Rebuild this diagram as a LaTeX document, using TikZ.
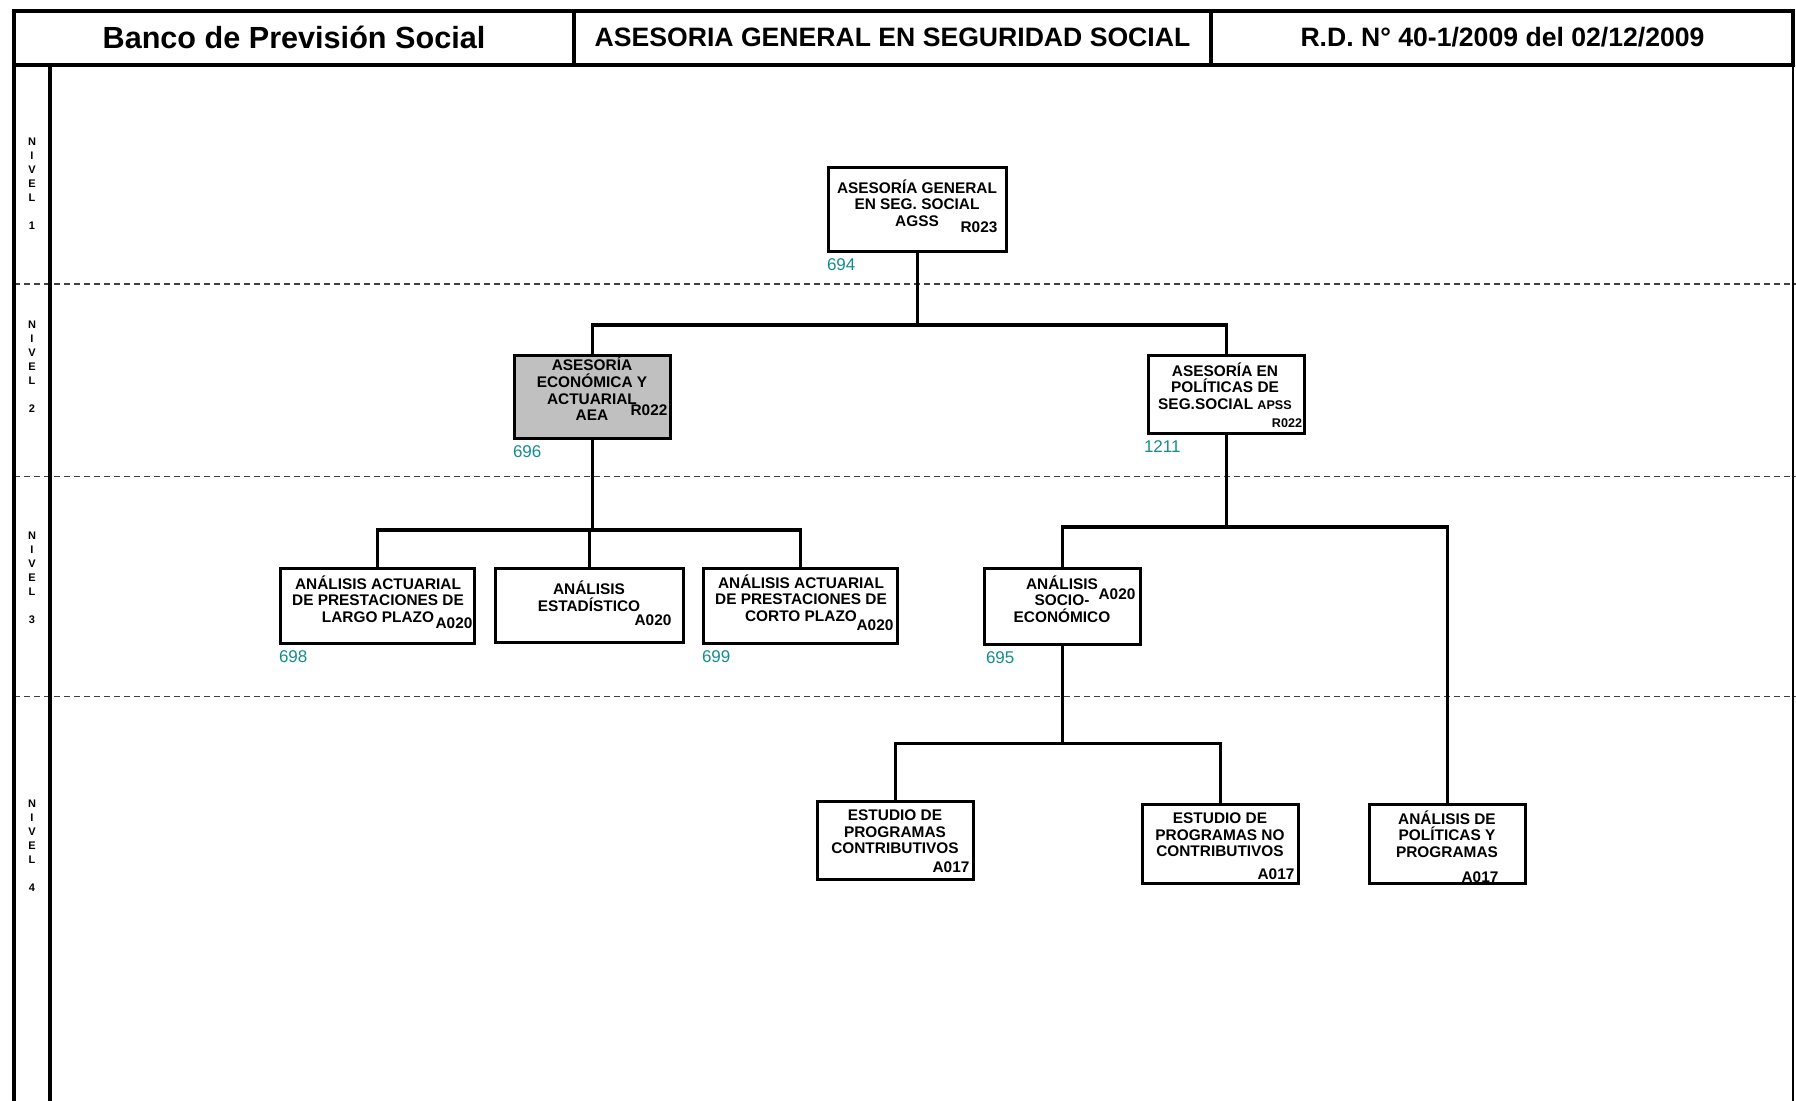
\documentclass[tikz,border=0pt]{standalone}
\usepackage{fontspec}
\setmainfont{Liberation Sans}
\usepackage{xcolor}
\definecolor{numteal}{RGB}{20,140,140}
\definecolor{boxgray}{RGB}{192,192,192}
\tikzset{
  unidad/.style={draw,line width=1.9pt,fill=white,inner sep=0pt},
  txt/.style={align=center,font=\fontsize{7.7}{8.3}\selectfont\bfseries,inner sep=0pt},
  codigo/.style={font=\fontsize{7.7}{8}\selectfont\bfseries,inner sep=0pt},
  codchico/.style={font=\fontsize{6.3}{6.5}\selectfont\bfseries,inner sep=0pt},
  num/.style={font=\fontsize{8.5}{9}\selectfont,text=numteal,anchor=north west,inner sep=0pt,yshift=-2.5pt},
  linea/.style={line width=1.8pt},
  nivel/.style={align=center,font=\fontsize{5.5}{7}\selectfont\bfseries,inner sep=0pt},
  corte/.style={black!75,line width=0.6pt,dash pattern=on 3pt off 2pt},
  encab/.style={inner sep=0pt}
}

\begin{document}
\begin{tikzpicture}[x=0.5pt,y=-0.5pt]
\useasboundingbox (0,0) rectangle (1796,1101);
% marco y encabezado
\draw[corte](14,284)--(1796,284);
\draw[corte](14,476.5)--(1796,476.5);
\draw[corte](14,696.5)--(1796,696.5);
\draw[line width=0.8pt](1793,65)--(1793,1101);
\draw[line width=1.9pt](50,65)--(50,1101);
\draw[line width=2pt](14,11)--(14,1101);
\draw[line width=2pt](14,11)rectangle(1793,65);
\draw[line width=2pt](574,11)--(574,65);
\draw[line width=2pt](1211,11)--(1211,65);
\node[encab,font=\fontsize{15.3}{16}\selectfont\bfseries] (hd1) at (294,37) {Banco de Previsión Social};
\node[encab,font=\fontsize{13.3}{14}\selectfont\bfseries] (hd2) at (892.5,37) {ASESORIA GENERAL EN SEGURIDAD SOCIAL};
\node[encab,font=\fontsize{13.3}{14}\selectfont\bfseries] (hd3) at (1502.5,37) {R.D. N° 40-1/2009 del 02/12/2009};
\node[nivel] (niv1) at (32,183.5) {N\\I\\V\\E\\L\\[7pt]1};
\node[nivel] (niv2) at (32,366.5) {N\\I\\V\\E\\L\\[7pt]2};
\node[nivel] (niv3) at (32,578) {N\\I\\V\\E\\L\\[7pt]3};
\node[nivel] (niv4) at (32,845.5) {N\\I\\V\\E\\L\\[7pt]4};
% unidades
\node[unidad,minimum width=89pt,minimum height=42pt] (agss) at (917.5,209.5) {};
\node[unidad,fill=boxgray,minimum width=78pt,minimum height=41.5pt] (aea) at (592.5,397) {};
\node[unidad,minimum width=78pt,minimum height=39pt] (apss) at (1226.5,394.5) {};
\node[unidad,minimum width=97pt,minimum height=37.5pt] (lpl) at (377.5,606) {};
\node[unidad,minimum width=94pt,minimum height=37pt] (est) at (589.5,605.5) {};
\node[unidad,minimum width=97pt,minimum height=37.5pt] (cpl) at (800.5,606) {};
\node[unidad,minimum width=78pt,minimum height=38pt] (soc) at (1062.5,606.5) {};
\node[unidad,minimum width=78pt,minimum height=39pt] (ctr) at (895.5,840.5) {};
\node[unidad,minimum width=78pt,minimum height=39.5pt] (nct) at (1220.5,844) {};
\node[unidad,minimum width=78pt,minimum height=39.5pt] (pol) at (1447.5,844) {};
\node[txt] (agss-t) at (917,203) {ASESORÍA GENERAL\\EN SEG. SOCIAL\\AGSS};
\node[txt] (aea-t) at (592,389) {ASESORÍA\\ECONÓMICA Y\\ACTUARIAL\\AEA};
\node[txt] (apss-t) at (1225,386) {ASESORÍA EN\\POLÍTICAS DE\\SEG.SOCIAL {\fontsize{6.3}{6.5}\selectfont APSS}};
\node[txt] (lpl-t) at (378,599) {ANÁLISIS ACTUARIAL\\DE PRESTACIONES DE\\LARGO PLAZO};
\node[txt] (est-t) at (589,596) {ANÁLISIS\\ESTADÍSTICO};
\node[txt] (cpl-t) at (801,598) {ANÁLISIS ACTUARIAL\\DE PRESTACIONES DE\\CORTO PLAZO};
\node[txt] (soc-t) at (1062,599) {ANÁLISIS\\SOCIO-\\ECONÓMICO};
\node[txt] (ctr-t) at (895,832) {ESTUDIO DE\\PROGRAMAS\\CONTRIBUTIVOS};
\node[txt] (nct-t) at (1220,835) {ESTUDIO DE\\PROGRAMAS NO\\CONTRIBUTIVOS};
\node[txt] (pol-t) at (1447,834) {ANÁLISIS DE\\POLÍTICAS Y\\PROGRAMAS};
\node[codigo] (agss-c) at (979,227) {R023};
\node[codigo] (aea-c) at (649,410) {R022};
\node[codchico] (apss-c) at (1287,423) {R022};
\node[codigo] (lpl-c) at (454,623) {A020};
\node[codigo] (est-c) at (653,620) {A020};
\node[codigo] (cpl-c) at (875,625) {A020};
\node[codigo] (soc-c) at (1117,594) {A020};
\node[codigo] (ctr-c) at (951,867) {A017};
\node[codigo] (nct-c) at (1276,874) {A017};
\node[codigo] (pol-c) at (1480,877) {A017};
\node[num] (agss-n) at (agss.south west) {694};
\node[num] (aea-n) at (aea.south west) {696};
\node[num] (apss-n) at ([xshift=-1.5pt]apss.south west) {1211};
\node[num] (lpl-n) at (lpl.south west) {698};
\node[num] (cpl-n) at (cpl.south west) {699};
\node[num] (soc-n) at ([xshift=1.5pt]soc.south west) {695};
% lineas de dependencia
\coordinate (b2) at (0,325);
\coordinate (b3a) at (0,530);
\coordinate (b3b) at (0,527);
\coordinate (b4) at (0,743.5);
\draw[linea](agss.south)--(agss.south|-b2);
\draw[linea](aea.north)|-(apss.north|-b2)--(apss.north);
\draw[linea](aea.south)--(aea.south|-b3a);
\draw[linea](lpl.north)|-(cpl.north|-b3a)--(cpl.north);
\draw[linea](est.north)--(est.north|-b3a);
\draw[linea](apss.south)--(apss.south|-b3b);
\draw[linea](soc.north)|-(pol.north|-b3b)--(pol.north);
\draw[linea](soc.south)--(soc.south|-b4);
\draw[linea](ctr.north)|-(nct.north|-b4)--(nct.north);
\end{tikzpicture}
\end{document}
